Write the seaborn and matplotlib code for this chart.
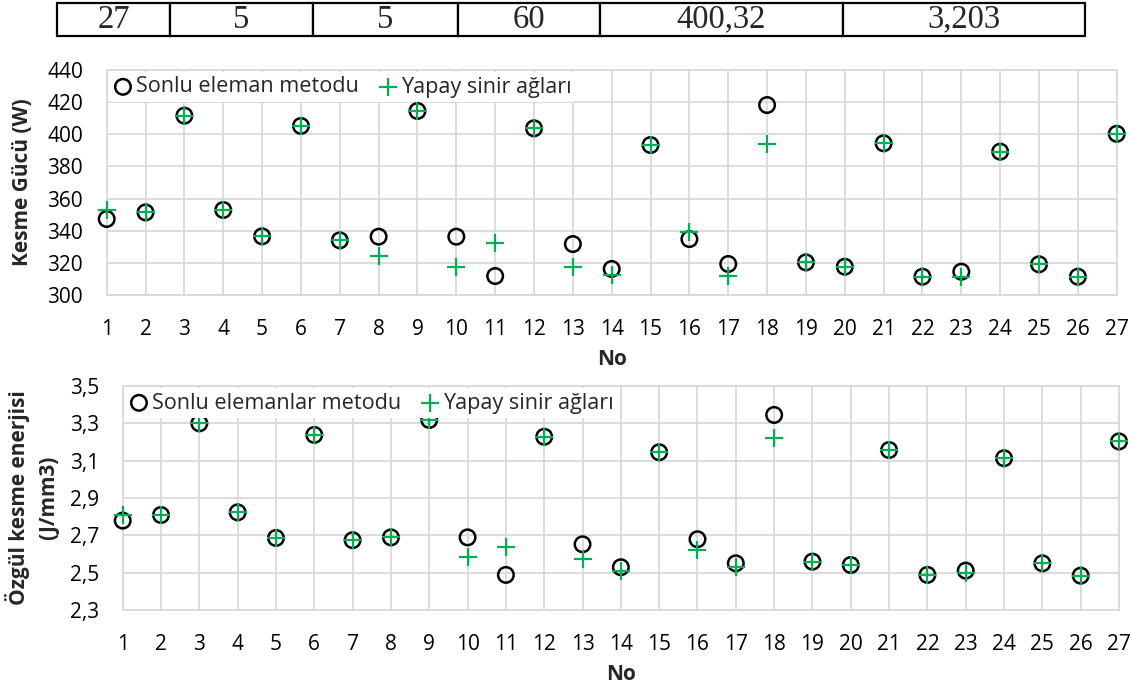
import numpy as np
import pandas as pd
import matplotlib
matplotlib.use("Agg")
import matplotlib.pyplot as plt
import seaborn as sns
from matplotlib.ticker import FuncFormatter, FixedLocator

# ---------------- data ----------------
table_values = ["27", "5", "5", "60", "400,32", "3,203"]
table_col_widths = [113, 143, 145, 142, 243, 242]

no = list(range(1, 28))
fem_power = [347.3, 351.4, 411.6, 352.9, 336.5, 405.2, 334.0, 336.3, 414.5, 336.3,
             311.8, 403.7, 331.7, 316.2, 393.3, 334.8, 319.3, 418.2, 320.3, 317.6,
             394.4, 311.4, 314.5, 389.2, 319.1, 311.4, 400.3]
ann_power = [352.9, 351.4, 411.6, 352.9, 336.5, 405.2, 334.0, 324.5, 414.5, 317.6,
             332.5, 403.7, 317.6, 312.4, 393.3, 339.4, 311.8, 394.0, 320.3, 317.6,
             394.4, 311.4, 311.4, 389.2, 319.1, 311.4, 400.3]
fem_energy = [2.779, 2.809, 3.300, 2.823, 2.686, 3.238, 2.674, 2.689, 3.318, 2.689,
              2.488, 3.228, 2.652, 2.529, 3.145, 2.679, 2.550, 3.345, 2.559, 2.541,
              3.157, 2.488, 2.511, 3.113, 2.550, 2.484, 3.203]
ann_energy = [2.809, 2.809, 3.300, 2.823, 2.686, 3.238, 2.674, 2.689, 3.318, 2.582,
              2.639, 3.228, 2.573, 2.509, 3.145, 2.622, 2.532, 3.220, 2.559, 2.541,
              3.157, 2.488, 2.497, 3.113, 2.550, 2.484, 3.203]

power_ticks = [300, 320, 340, 360, 380, 400, 420, 440]
energy_ticks = [2.3, 2.5, 2.7, 2.9, 3.1, 3.3, 3.5]

top_legend = ["Sonlu eleman metodu", "Yapay sinir ağları"]
bot_legend = ["Sonlu elemanlar metodu", "Yapay sinir ağları"]
top_ylabel = "Kesme Gücü (W)"
bot_ylabel = "Özgül kesme enerjisi\n(J/mm3)"
xlabel = "No"

# ---------------- style ----------------
sns.set_theme(style="white")
plt.rcParams["font.family"] = ["Open Sans", "DejaVu Sans"]

W, H = 1132, 686
fig = plt.figure(figsize=(W / 100, H / 100), dpi=100)

GREEN = "#00B050"
GRID = "#D9D9D9"
FS = 15
LFS = 15.6


def px_axes(x0, y0, x1, y1):
    return fig.add_axes([x0 / W, 1 - y1 / H, (x1 - x0) / W, (y1 - y0) / H])


def draw_panel(ax, fem, ann, labels, ticks, ylabel, fmt, ylabelpad):
    df = pd.DataFrame({"No": no, "fem": fem, "ann": ann})
    sns.scatterplot(data=df, x="No", y="fem", ax=ax, marker="o", s=125,
                    facecolor="none", edgecolor="black", linewidth=1.8,
                    label=labels[0], clip_on=False, zorder=3)
    sns.scatterplot(data=df, x="No", y="ann", ax=ax, marker="+", s=150,
                    color=GREEN, linewidth=1.6,
                    label=labels[1], clip_on=False, zorder=4)
    ax.set_xlim(1, 27)
    ax.set_ylim(ticks[0], ticks[-1])
    ax.xaxis.set_major_locator(FixedLocator(no))
    ax.yaxis.set_major_locator(FixedLocator(ticks))
    ax.yaxis.set_major_formatter(FuncFormatter(fmt))
    ax.grid(True, color=GRID, linewidth=1.3)
    ax.set_axisbelow(True)
    for sp in ax.spines.values():
        sp.set_color(GRID)
        sp.set_linewidth(1.3)
    ax.tick_params(axis="x", length=0, pad=17, labelsize=FS, colors="#000000")
    ax.tick_params(axis="y", length=0, pad=17, labelsize=FS, colors="#000000")
    ax.set_xlabel(xlabel, fontsize=FS, fontweight="bold", labelpad=7)
    ax.set_ylabel(ylabel, fontsize=FS, fontweight="bold", labelpad=ylabelpad,
                  linespacing=1.5)
    leg = ax.legend(loc="upper left", ncol=2, frameon=True, fontsize=LFS,
                    handletextpad=0.15, handlelength=0.9, columnspacing=0.9,
                    borderaxespad=0.1, borderpad=0.2, markerscale=1.0)
    leg.get_frame().set_facecolor("white")
    leg.get_frame().set_edgecolor("none")
    leg.get_frame().set_alpha(1.0)


ax1 = px_axes(106.7, 70, 1116.7, 295)
draw_panel(ax1, fem_power, ann_power, top_legend, power_ticks, top_ylabel,
           lambda v, p: f"{v:.0f}", 10)

ax2 = px_axes(122.7, 386, 1119, 610)
draw_panel(ax2, fem_energy, ann_energy, bot_legend, energy_ticks, bot_ylabel,
           lambda v, p: f"{v:.1f}".replace(".", ","), 8)

# ---------------- top table ----------------
axt = px_axes(57, 3, 1085, 36)
axt.axis("off")
total = sum(table_col_widths)
tbl = axt.table(cellText=[table_values],
                colWidths=[w / total for w in table_col_widths],
                cellLoc="center", bbox=[0, 0, 1, 1])
tbl.auto_set_font_size(False)
for (r, c), cell in tbl.get_celld().items():
    cell.set_linewidth(1.6)
    cell.set_edgecolor("black")
    cell.get_text().set_fontfamily("Liberation Serif")
    cell.get_text().set_fontsize(23.5)

fig.savefig("out.png", dpi=100)
